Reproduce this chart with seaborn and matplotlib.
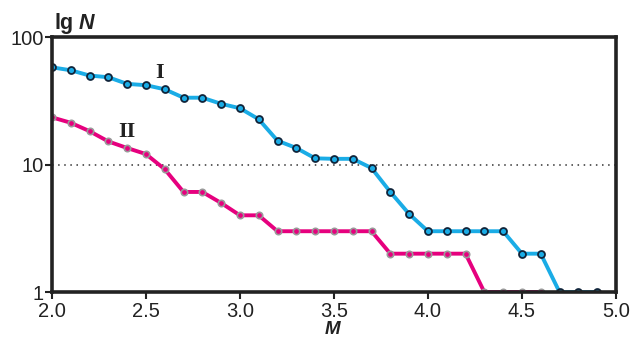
import matplotlib
matplotlib.use("Agg")
import matplotlib.pyplot as plt
import seaborn as sns
import pandas as pd
import numpy as np

# Data
m_values = [2.0, 2.1, 2.2, 2.3, 2.4, 2.5, 2.6, 2.7, 2.8, 2.9, 3.0, 3.1, 3.2, 3.3,
            3.4, 3.5, 3.6, 3.7, 3.8, 3.9, 4.0, 4.1, 4.2, 4.3, 4.4, 4.5, 4.6, 4.7,
            4.8, 4.9]
series_I = [58, 55, 50, 48.5, 43, 42, 39, 33.5, 33.5, 30, 27.7, 22.7, 15.4, 13.5,
            11.2, 11.1, 11.1, 9.4, 6.1, 4.1, 3, 3, 3, 3, 3, 2, 2, 1,
            1, 1]
m_values_II = [2.0, 2.1, 2.2, 2.3, 2.4, 2.5, 2.6, 2.7, 2.8, 2.9, 3.0, 3.1, 3.2,
               3.3, 3.4, 3.5, 3.6, 3.7, 3.8, 3.9, 4.0, 4.1, 4.2, 4.3, 4.4, 4.5,
               4.6]
series_II = [23.5, 21.3, 18.3, 15.2, 13.5, 12.1, 9.2, 6.1, 6.1, 5.0, 4.0, 4.0, 3,
             3, 3, 3, 3, 3, 2, 2, 2, 2, 2, 1, 1, 1,
             1]
x_ticks = [2.0, 2.5, 3.0, 3.5, 4.0, 4.5, 5.0]
x_tick_labels = ["2.0", "2.5", "3.0", "3.5", "4.0", "4.5", "5.0"]
y_ticks = [1, 10, 100]
y_tick_labels = ["1", "10", "100"]
series_labels = ["I", "II"]

sns.set_style("white")
plt.rcParams['font.family'] = ['Liberation Sans', 'DejaVu Sans']

fig = plt.figure(figsize=(6.33, 3.38), dpi=100)
ax = fig.add_axes([0.082, 0.136, 0.891, 0.754])

blue = "#1aace6"
pink = "#e6007e"

dfI = pd.DataFrame({"M": m_values, "N": series_I})
dfII = pd.DataFrame({"M": m_values_II, "N": series_II})

ax.axhline(10, color="#333333", lw=1.1, ls=(0, (1, 3)), zorder=1)

sns.lineplot(data=dfII, x="M", y="N", ax=ax, color=pink, lw=2.8,
             marker="o", markersize=4.6, markerfacecolor=pink,
             markeredgecolor="#9a9a9a", markeredgewidth=1.2, zorder=3,
             clip_on=True)
sns.lineplot(data=dfI, x="M", y="N", ax=ax, color=blue, lw=2.8,
             marker="o", markersize=5.0, markerfacecolor=blue,
             markeredgecolor="#10243a", markeredgewidth=1.3, zorder=4,
             clip_on=True)

ax.set_yscale("log")
ax.set_xlim(2.0, 5.0)
ax.set_ylim(1, 100)
ax.set_xticks(x_ticks)
ax.set_xticklabels(x_tick_labels)
ax.set_yticks(y_ticks)
ax.set_yticklabels(y_tick_labels)
ax.minorticks_off()
ax.tick_params(axis="both", which="major", direction="out", length=5, width=1.5,
               color="#222222", labelsize=14.5, labelcolor="#222222",
               left=True, bottom=True)
ax.tick_params(axis="x", pad=2)
ax.tick_params(axis="y", pad=1)
ax.set_xlabel("")
ax.set_ylabel("")

for side in ["left", "bottom", "top", "right"]:
    ax.spines[side].set_color("#222222")
    ax.spines[side].set_linewidth(2.6)
    ax.spines[side].set_visible(True)
    ax.spines[side].set_zorder(6)

ax.text(2.575, 52, series_labels[0], family=["Liberation Serif", "DejaVu Serif"],
        fontsize=16, fontweight="bold", color="#222222", ha="center", va="center")
ax.text(2.40, 18, series_labels[1], family=["Liberation Serif", "DejaVu Serif"],
        fontsize=16, fontweight="bold", color="#222222", ha="center", va="center")

t1 = fig.text(54 / 633, 1 - 29 / 338, "lg", fontsize=15.5, fontweight="bold",
              color="#222222", ha="left", va="baseline")
ax.annotate("N", xy=(1, 0), xycoords=t1, xytext=(4, 0), textcoords="offset points",
            fontsize=15.5, fontweight="bold", fontstyle="italic", color="#222222",
            ha="left", va="bottom")
fig.text(((3.5 - 2.0) / 3.0 * 0.891 + 0.082) - 0.003, 1 - 334 / 338, "M",
         fontsize=13.5, fontweight="bold", fontstyle="italic", color="#222222",
         ha="center", va="baseline")

fig.savefig("out.png", dpi=100)
